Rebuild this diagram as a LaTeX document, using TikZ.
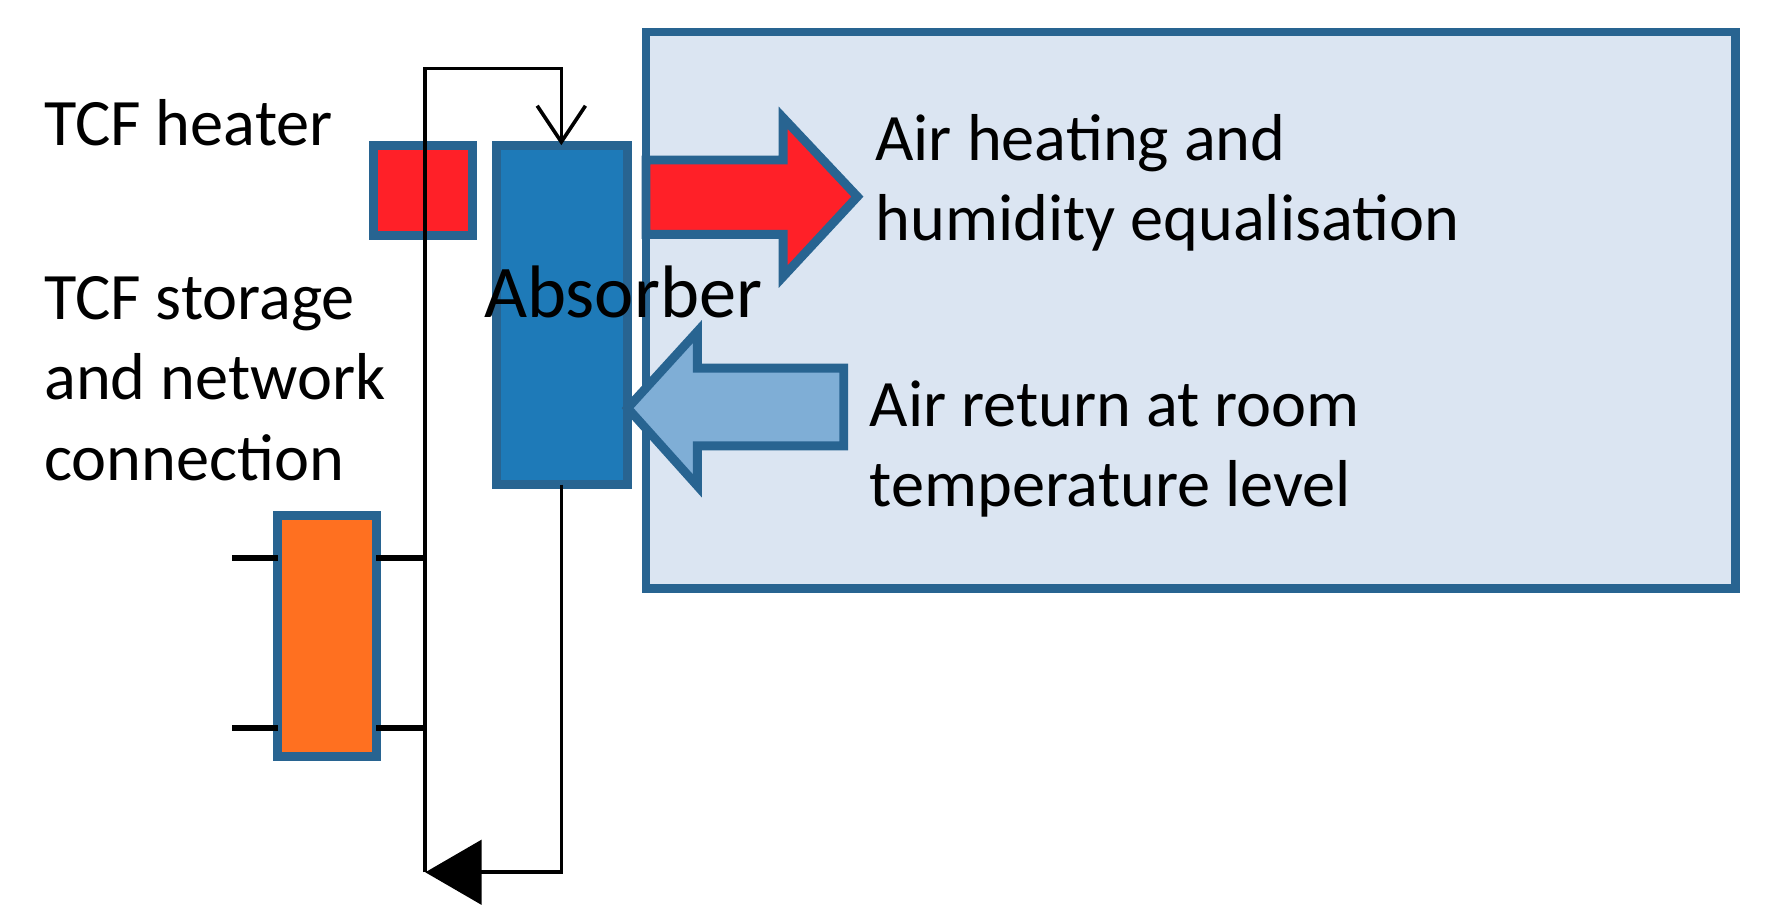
\documentclass[tikz,border=0pt]{standalone}
\usepackage{fontspec}
\setmainfont{Carlito}
\usetikzlibrary{arrows.meta}
\definecolor{edgeb}{RGB}{40,100,145}
\definecolor{roomb}{RGB}{219,229,242}
\definecolor{absb}{RGB}{30,122,184}
\definecolor{heatr}{RGB}{255,32,40}
\definecolor{orng}{RGB}{255,112,32}
\definecolor{retb}{RGB}{127,174,214}
\begin{document}
\begin{tikzpicture}[x=0.01cm,y=-0.01cm,
  blk/.style={draw=edgeb,line width=2.2pt},
  pipe/.style={draw=black,line width=0.9pt},
  stub/.style={draw=black,line width=1.6pt},
  lbl/.style={font=\fontsize{16.5}{20}\selectfont,anchor=west,inner sep=0pt,align=left}]
\useasboundingbox (0,0) rectangle (1550,794);
\fill[roomb,draw=edgeb,line width=2.2pt] (565,28) rectangle (1518,515);
\path[blk,fill=heatr] (327,127) rectangle (413,206);
\path[blk,fill=absb] (434,127) rectangle (549,424);
\coordinate (abstop) at (491,127);
\coordinate (absbot) at (491,424);
\path[blk,fill=orng] (243,451) rectangle (329,662);
% arrows
\path[blk,fill=heatr] (565,140) -- (685,140) -- (685,103) -- (750,172) -- (685,242) -- (685,205) -- (565,205) -- cycle;
\path[blk,fill=retb] (738,322) -- (610,322) -- (610,290) -- (549,357) -- (610,425) -- (610,390) -- (738,390) -- cycle;
% pipes
\coordinate (tl) at (372,60);
\coordinate (tr) at (491,60);
\coordinate (bl) at (372,763);
\coordinate (br) at (491,763);
\draw[pipe,-{Straight Barb[length=9pt,width=12pt]}] (bl) -- (tl) -- (tr) -- (abstop);
\draw[pipe,-{Triangle[length=14pt,width=16pt]}] (absbot) -- (br) -- (bl);
\draw[stub] (203,488) -- (243,488);
\draw[stub] (203,637) -- (243,637);
\draw[stub] (329,488) -- (372,488);
\draw[stub] (329,637) -- (372,637);
% labels
\node[lbl] (t1) at (38,107) {TCF heater};
\node[lbl] (t2) at (38,331) {TCF storage\\and network\\connection};
\node[lbl,anchor=center,font=\fontsize{18.5}{22}\selectfont] (t3) at (545,255) {Absorber};
\node[lbl] (t4) at (765,160) {Air heating and\\humidity equalisation};
\node[lbl] (t5) at (760,393) {Air return at room\\temperature level};
\end{tikzpicture}
\end{document}
